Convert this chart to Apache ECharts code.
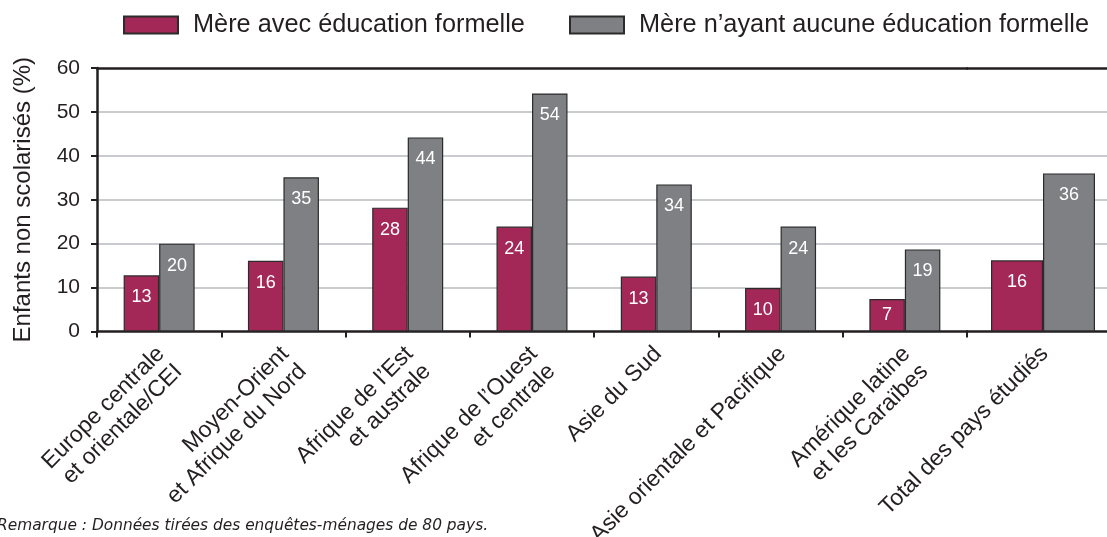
<!DOCTYPE html>
<html>
<head>
<meta charset="utf-8">
<title>Enfants non scolarisés</title>
<script src="https://cdn.jsdelivr.net/npm/echarts@6/dist/echarts.min.js"></script>
<style>
	html, body { margin: 0; padding: 0; background: #fff; }
	#chart { width: 1107px; height: 537px; }
</style>
</head>
<body>
<div id="chart"></div>
<script>
	// données
	var categories = [
		'Europe centrale\net orientale/CEI',
		'Moyen-Orient\net Afrique du Nord',
		'Afrique de l\u2019Est\net australe',
		'Afrique de l\u2019Ouest\net centrale',
		'Asie du Sud',
		'Asie orientale et Pacifique',
		'Amérique latine\net les Caraïbes',
		'Total des pays étudiés'
	];
	var withEducation = [12.8, 16.1, 28.2, 23.9, 12.5, 9.9, 7.4, 16.2];
	var noEducation = [20.0, 35.1, 44.2, 54.2, 33.5, 23.9, 18.7, 36.0];
	var yTicks = [0, 10, 20, 30, 40, 50, 60];

	var nameWith = 'Mère avec éducation formelle';
	var nameNo = 'Mère n\u2019ayant aucune éducation formelle';

	var FONT = "'Liberation Sans', Arial, Helvetica, sans-serif";
	var INK = '#231f20';
	var RED = '#a42857';
	var GREY = '#7e8084';

	// les régions (7 premières) et le total sont dans deux grilles
	var regionCats = categories.slice(0, 7);
	var totalCats = categories.slice(7);

	function toData(vals) {
		return vals.map(function (v) {
			var item = { value: v };
			// barre courte : étiquette au milieu
			if (v < 9) {
				item.label = { position: 'inside' };
			}
			return item;
		});
	}

	var barLabel = {
		show: true,
		position: 'insideTop',
		distance: 13,
		color: '#fff',
		fontSize: 18,
		fontFamily: FONT,
		formatter: function (p) { return Math.round(p.value); }
	};

	function bottomAxis(grid, data) {
		return {
			type: 'category',
			gridIndex: grid,
			data: data,
			position: 'bottom',
			axisLine: { lineStyle: { color: INK, width: 2.5 } },
			axisTick: { show: true, length: 6, lineStyle: { color: INK, width: 2 } },
			axisLabel: {
				interval: 0,
				rotate: 45,
				align: 'right',
				verticalAlign: 'top',
				margin: 3,
				padding: [0, 10, 0, 0],
				fontSize: 23,
				lineHeight: 25,
				color: INK,
				fontFamily: FONT
			}
		};
	}

	function topAxis(grid, data) {
		return {
			type: 'category',
			gridIndex: grid,
			data: data,
			position: 'top',
			axisLine: { lineStyle: { color: INK, width: 2.5 } },
			axisTick: { show: false },
			axisLabel: { show: false }
		};
	}

	var splitLine = {
		show: true,
		showMinLine: false,
		showMaxLine: false,
		lineStyle: { color: '#c9cbcf', width: 2 }
	};

	var legendText = { fontSize: 25.3, color: INK, fontFamily: FONT, padding: [0, 0, 0, 10] };

	var myChart = echarts.init(document.getElementById('chart'));

	var option = {
		animation: false,
		textStyle: { fontFamily: FONT, color: INK },
		legend: [{
			data: [nameWith],
			left: 123,
			top: 12.5,
			padding: 0,
			itemWidth: 54,
			itemHeight: 17,
			icon: 'rect',
			textStyle: legendText
		}, {
			data: [nameNo],
			left: 569,
			top: 12.5,
			padding: 0,
			itemWidth: 54,
			itemHeight: 17,
			icon: 'rect',
			textStyle: legendText
		}],
		grid: [
			{ left: 97, right: 140, top: 68, bottom: 205.5, outerBoundsMode: 'none' },
			{ left: 967, width: 152, top: 68, bottom: 205.5, outerBoundsMode: 'none' }
		],
		xAxis: [
			bottomAxis(0, regionCats),
			topAxis(0, regionCats),
			bottomAxis(1, totalCats),
			topAxis(1, totalCats)
		],
		yAxis: [{
			type: 'value',
			gridIndex: 0,
			min: yTicks[0],
			max: yTicks[yTicks.length - 1],
			interval: 10,
			name: 'Enfants non scolarisés (%)',
			nameLocation: 'middle',
			nameGap: 62,
			nameTextStyle: { fontSize: 24, color: INK, fontFamily: FONT },
			axisLine: { show: true, lineStyle: { color: INK, width: 2.5 } },
			axisTick: { show: true, length: 6, lineStyle: { color: INK, width: 2 } },
			axisLabel: { fontSize: 21, margin: 17, color: INK, fontFamily: FONT },
			splitLine: splitLine
		}, {
			type: 'value',
			gridIndex: 1,
			min: yTicks[0],
			max: yTicks[yTicks.length - 1],
			interval: 10,
			axisLine: { show: false },
			axisTick: { show: false },
			axisLabel: { show: false },
			splitLine: splitLine
		}],
		series: [{
			name: nameWith,
			type: 'bar',
			xAxisIndex: 0,
			yAxisIndex: 0,
			barWidth: 35.5,
			barGap: '0%',
			itemStyle: { color: RED, borderColor: '#2b2b2b', borderWidth: 1.2 },
			label: barLabel,
			data: toData(withEducation.slice(0, 7))
		}, {
			name: nameNo,
			type: 'bar',
			xAxisIndex: 0,
			yAxisIndex: 0,
			barWidth: 35.5,
			barGap: '0%',
			itemStyle: { color: GREY, borderColor: '#2b2b2b', borderWidth: 1.2 },
			label: barLabel,
			data: toData(noEducation.slice(0, 7))
		}, {
			name: nameWith,
			type: 'bar',
			xAxisIndex: 2,
			yAxisIndex: 1,
			barWidth: 52,
			barGap: '0%',
			itemStyle: { color: RED, borderColor: '#2b2b2b', borderWidth: 1.2 },
			label: barLabel,
			data: toData(withEducation.slice(7))
		}, {
			name: nameNo,
			type: 'bar',
			xAxisIndex: 2,
			yAxisIndex: 1,
			barWidth: 52,
			barGap: '0%',
			itemStyle: { color: GREY, borderColor: '#2b2b2b', borderWidth: 1.2 },
			label: barLabel,
			data: toData(noEducation.slice(7))
		}],
		graphic: [{
			type: 'text',
			left: -3,
			top: 518,
			style: {
				text: 'Remarque : Données tirées des enquêtes-ménages de 80 pays.',
				font: "italic 15.4px 'DejaVu Sans', 'Open Sans', sans-serif",
				fill: INK
			}
		}]
	};

	myChart.setOption(option);
</script>
</body>
</html>
